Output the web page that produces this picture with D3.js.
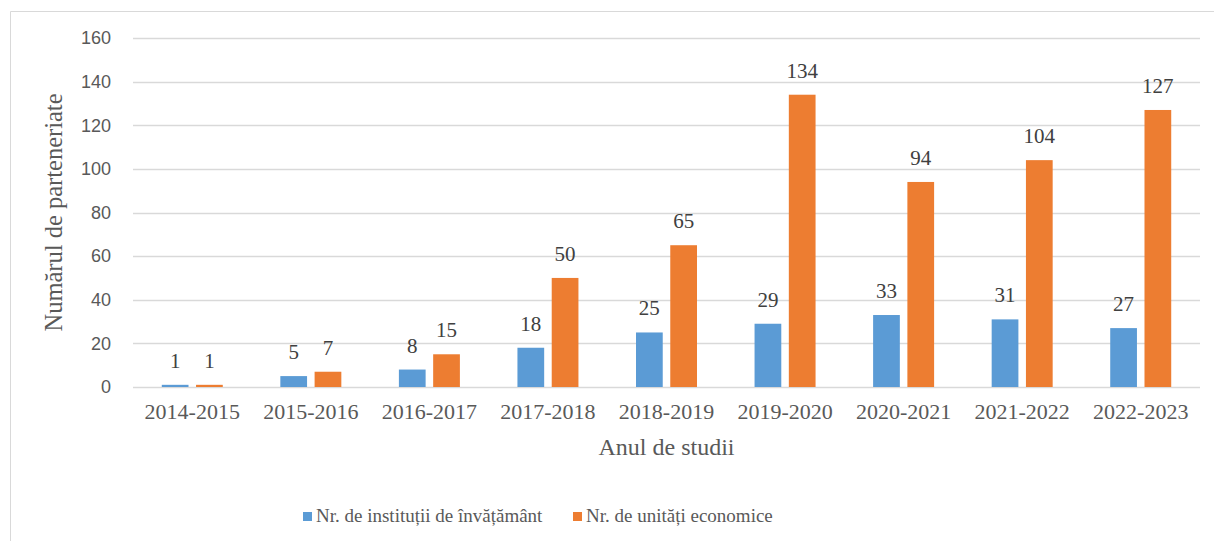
<!DOCTYPE html>
<html>
<head>
<meta charset="utf-8">
<script src="https://cdn.jsdelivr.net/npm/d3@7"></script>
<style>
  body { margin: 0; background: #fff; }
  svg { display: block; }
  .serif { font-family: "Liberation Serif", "Times New Roman", "DejaVu Serif", serif; }
  .sans { font-family: "Liberation Sans", Arial, sans-serif; }
</style>
</head>
<body>
<div id="chart"></div>
<script>
// chart values
const years = ["2014-2015", "2015-2016", "2016-2017", "2017-2018", "2018-2019",
               "2019-2020", "2020-2021", "2021-2022", "2022-2023"];
const institutii = [1, 5, 8, 18, 25, 29, 33, 31, 27];
const unitati = [1, 7, 15, 50, 65, 134, 94, 104, 127];
const seriesNames = ["Nr. de instituții de învățământ", "Nr. de unități economice"];
const yTicks = [0, 20, 40, 60, 80, 100, 120, 140, 160];

const width = 1214, height = 541;
const COLORS = ["#5B9BD5", "#ED7D31"];

var rows = years.map((y, i) => ({ year: y, values: [institutii[i], unitati[i]] }));

const margin = { left: 133, right: 14, top: 38, bottom: 154 };

const svg = d3.select("#chart").append("svg")
    .attr("width", width)
    .attr("height", height);

// outer chart frame (only top and left edges are visible in the crop)
svg.append("path")
    .attr("d", `M10.5,${height} V11.5 H${width}`)
    .attr("fill", "none")
    .attr("stroke", "#d9d9d9")
    .attr("stroke-width", 1);

var x0 = d3.scaleBand()
    .domain(years)
    .range([margin.left, width - margin.right]);

var groupW = 61;
var x1 = d3.scaleBand()
    .domain([0, 1])
    .range([0, groupW])
    .paddingInner(0.22);

var y = d3.scaleLinear()
    .domain([0, 160])
    .range([height - margin.bottom, margin.top]);

// gridlines
svg.append("g")
  .selectAll("line")
  .data(yTicks)
  .join("line")
    .attr("x1", margin.left)
    .attr("x2", width - margin.right)
    .attr("y1", d => Math.round(y(d)) + 0.5)
    .attr("y2", d => Math.round(y(d)) + 0.5)
    .attr("stroke", "#d9d9d9")
    .attr("stroke-width", 1.5);

// y axis labels
const yAxis = svg.append("g")
    .attr("transform", `translate(${margin.left},0)`)
    .call(d3.axisLeft(y).tickValues(yTicks).tickSize(0).tickPadding(22));
yAxis.select(".domain").remove();
yAxis.attr("font-family", null).attr("font-size", null);
yAxis.selectAll("text")
    .attr("class", "sans")
    .style("font-size", "18px")
    .attr("fill", "#595959");

// bars
const groups = svg.append("g")
  .selectAll("g")
  .data(rows)
  .join("g")
    .attr("transform", d => `translate(${x0(d.year) + (x0.bandwidth() - groupW) / 2},0)`);

groups.selectAll("rect")
  .data(d => d.values.map((v, k) => ({ k: k, v: v })))
  .join("rect")
    .attr("x", d => x1(d.k))
    .attr("width", x1.bandwidth())
    .attr("y", d => y(d.v))
    .attr("height", d => y(0) - y(d.v))
    .attr("fill", d => COLORS[d.k]);

// data labels
groups.selectAll("text")
  .data(d => d.values.map((v, k) => ({ k: k, v: v })))
  .join("text")
    .attr("class", "serif")
    .attr("x", d => x1(d.k) + x1.bandwidth() / 2)
    .attr("y", d => y(d.v) - 17)
    .attr("text-anchor", "middle")
    .style("font-size", "21px")
    .attr("fill", "#404040")
    .text(d => d.v);

// x axis
const xAxis = svg.append("g")
    .attr("transform", `translate(0,${y(0)})`)
    .call(d3.axisBottom(x0).tickSize(0).tickPadding(0));
xAxis.select(".domain").remove();
xAxis.attr("font-family", null).attr("font-size", null);
xAxis.selectAll("text")
    .attr("class", "serif")
    .attr("dy", null)
    .attr("y", 32)
    .style("font-size", "22px")
    .attr("fill", "#595959");

// axis titles
svg.append("text")
    .attr("class", "serif")
    .attr("x", (margin.left + width - margin.right) / 2)
    .attr("y", 455)
    .attr("text-anchor", "middle")
    .style("font-size", "24px")
    .attr("fill", "#595959")
    .text("Anul de studii");

svg.append("text")
    .attr("class", "serif")
    .attr("transform", `translate(62,${(y(0) + y(160)) / 2}) rotate(-90)`)
    .attr("text-anchor", "middle")
    .style("font-size", "24.5px")
    .attr("fill", "#595959")
    .text("Numărul de parteneriate");

// legend
const legendX = [303, 573];
const legend = svg.append("g")
  .selectAll("g")
  .data(seriesNames)
  .join("g")
    .attr("transform", (d, i) => `translate(${legendX[i]},522)`);

legend.append("rect")
    .attr("x", 0)
    .attr("y", -10)
    .attr("width", 9)
    .attr("height", 9)
    .attr("fill", (d, i) => COLORS[i]);

legend.append("text")
    .attr("class", "serif")
    .attr("x", 13)
    .attr("y", 0)
    .style("font-size", "19px")
    .attr("fill", "#595959")
    .text(d => d);
</script>
</body>
</html>
